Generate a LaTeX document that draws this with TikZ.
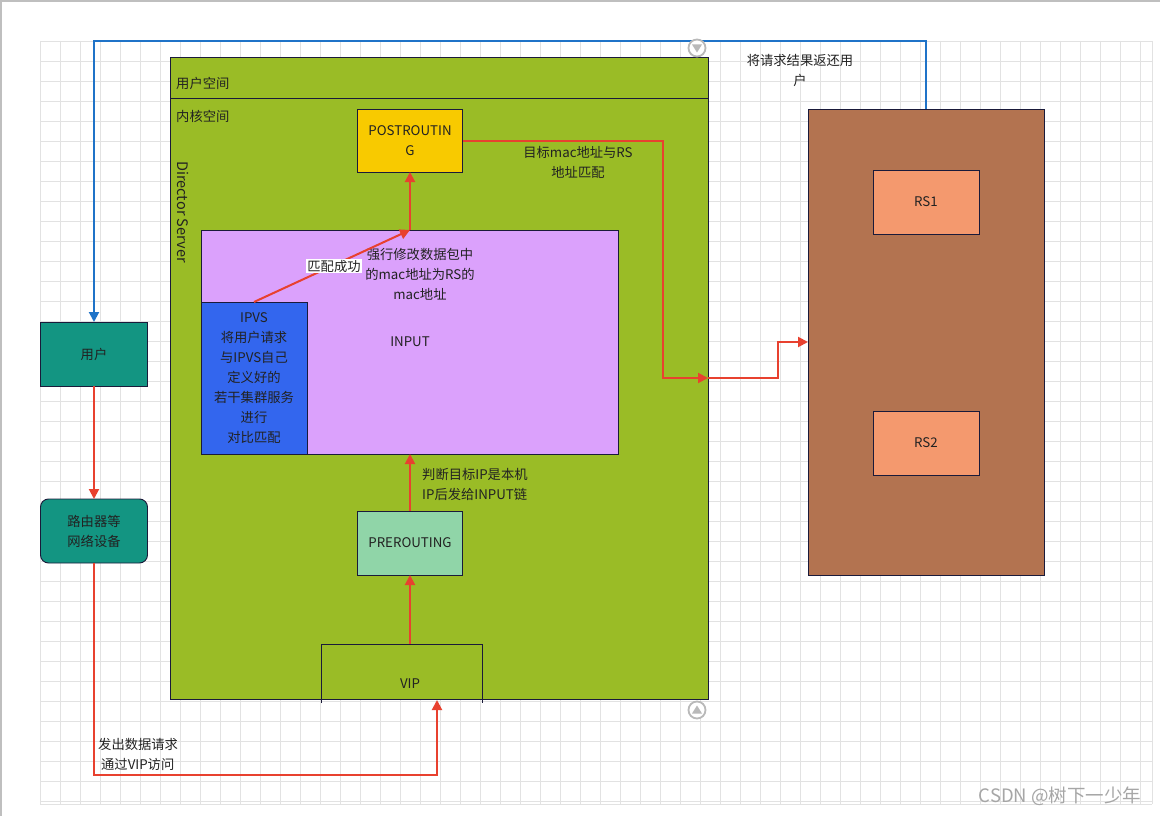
\documentclass[tikz,border=0pt]{standalone}
\usepackage{fontspec}
\setmainfont{Noto Sans CJK SC}
\usetikzlibrary{arrows.meta}
\definecolor{dsgreen}{HTML}{9ABC26}
\definecolor{navy}{HTML}{1A1A3A}
\definecolor{postyel}{HTML}{F8CA00}
\definecolor{inpurp}{HTML}{DBA1FC}
\definecolor{ipvsblue}{HTML}{3366EE}
\definecolor{pregreen}{HTML}{90D5A8}
\definecolor{teal}{HTML}{139582}
\definecolor{rsbrown}{HTML}{B37350}
\definecolor{rssalmon}{HTML}{F4996E}
\definecolor{redln}{HTML}{E8412F}
\definecolor{blueln}{HTML}{1F73C8}
\definecolor{txt}{HTML}{222222}
\definecolor{gridc}{HTML}{E2E2E2}
\tikzset{
  box/.style={draw=navy, line width=0.9pt, inner sep=0pt, outer sep=0pt, align=center, text=txt, font=\fontsize{13.3}{20}\selectfont},
  lbl/.style={inner sep=0pt, text=txt, font=\fontsize{13.3}{20}\selectfont, align=center},
  redarrow/.style={draw=redln, line width=2pt, -{Triangle[length=10pt,width=10pt]}},
  bluearrow/.style={draw=blueln, line width=2pt, -{Triangle[length=10pt,width=10pt]}},
  icon/.style={draw=gray!55, line width=1.8pt, fill=white}
}
\begin{document}
\begin{tikzpicture}[x=1pt,y=-1pt]
\useasboundingbox (0,0) rectangle (1160,816);
\fill[white] (0,0) rectangle (1160,816);
% window border
\draw[gray!50, line width=1.2pt] (0,1) -- (1160,1);
\draw[gray!50, line width=1.2pt] (1,0) -- (1,816);
% grid
\foreach \x in {40,60,...,1140} \draw[gridc, line width=0.8pt] (\x,41) -- (\x,804);
\draw[gridc, line width=0.8pt] (1152,41) -- (1152,804);
\foreach \y in {41,61,...,801} \draw[gridc, line width=0.8pt] (40,\y) -- (1152,\y);
\draw[gridc, line width=0.8pt] (40,804) -- (1152,804);

% Director server
\node[box, fill=dsgreen, minimum width=538pt, minimum height=642pt] (ds) at (439,378) {};
\draw[navy, line width=0.9pt] (ds.west |- 0,98) -- (ds.east |- 0,98);
\node[lbl, anchor=west] (us) at (176,83) {用户空间};
\node[lbl, anchor=west] (ks) at (176,116) {内核空间};
\node[lbl, rotate=-90, font=\fontsize{14.5}{16}\selectfont] (dsname) at (183,212) {Director Server};

% inner boxes
\node[box, fill=postyel, minimum width=105pt, minimum height=63pt] (post) at (410,140.5) {POSTROUTIN\\G};
\node[box, fill=inpurp, minimum width=417pt, minimum height=224pt] (input) at (410,342) {};
\node[lbl] (inputt) at (410,342) {INPUT};
\node[box, fill=ipvsblue, minimum width=106pt, minimum height=152pt] (ipvs) at (254,378) {IPVS\\将用户请求\\与IPVS自己\\定义好的\\若干集群服务\\进行\\对比匹配};
\node[lbl] (force) at (420,274) {强行修改数据包中\\的mac地址为RS的\\mac地址};
\node[box, fill=pregreen, minimum width=105pt, minimum height=64pt] (pre) at (410,543) {PREROUTING};
\node[lbl, anchor=west, align=left] (judge) at (422,484) {判断目标IP是本机\\IP后发给INPUT链};

% VIP
\node[inner sep=0pt, minimum width=161pt, minimum height=55pt] (vip) at (401.5,671.5) {};
\node[lbl] (viptxt) at (410,684) {VIP};
\draw[navy, line width=0.9pt] (321,703) -- (321,644) -- (482,644) -- (482,703);

% left side
\node[box, fill=teal, minimum width=107pt, minimum height=64pt] (user) at (94,354) {用户};
\node[box, fill=teal, rounded corners=8pt, minimum width=107pt, minimum height=64pt] (router) at (94,531) {路由器等\\网络设备};

% right side
\node[box, fill=rsbrown, minimum width=236pt, minimum height=466pt] (rsbox) at (926,342) {};
\node[box, fill=rssalmon, minimum width=106pt, minimum height=64pt] (rs1) at (926,202) {RS1};
\node[box, fill=rssalmon, minimum width=106pt, minimum height=64pt] (rs2) at (926,443) {RS2};

% coordinates
\coordinate (topl) at (94,41);
\coordinate (mid) at (708,378);
\coordinate (vipin) at (437,700);
\coordinate (botl) at (94,775);

% connectors
\draw[redarrow] (ipvs.north) -- (input.north);
\draw[redarrow] (input.north) -- (post.south);
\node[lbl, fill=white, inner sep=1pt] (match) at (334,266) {匹配成功};
\draw[redarrow] (pre.north) -- (input.south);
\draw[redarrow] (pre.south |- vip.north) -- (pre.south);
\draw[redarrow] (user.south) -- (router.north);
\draw[redarrow] (router.south) -- (botl) -- (vipin |- botl) -- (vipin);
\draw[bluearrow] (rsbox.north) -- (rsbox.north |- topl) -- (topl) -- (user.north);
\draw[redarrow] (post.east) -- (663,140.5) -- (663,378) -- (mid);
\draw[redarrow] (mid) -- (778,378) -- (778,342) -- (rsbox.west);

% labels
\node[lbl] (ret) at (800,70.5) {将请求结果返还用\\户};
\node[lbl] (tgt) at (578,162.5) {目标mac地址与RS\\地址匹配};
\node[lbl, anchor=west, align=left] (send) at (98,754) {发出数据请求\\\ 通过VIP访问};

% icons
\node[icon, circle, minimum size=17pt, inner sep=0pt] (ic1) at (697,48) {};
\fill[gray!55] (692,44.5) -- (702,44.5) -- (697,52.5) -- cycle;
\node[icon, circle, minimum size=17pt, inner sep=0pt] (ic2) at (697,710) {};
\fill[gray!55] (692,713.5) -- (702,713.5) -- (697,705.5) -- cycle;

% watermark
\node[inner sep=0pt, text=gray!70, font=\fontsize{18.5}{20}\selectfont] (wm) at (1060,796) {CSDN @树下一少年};
\end{tikzpicture}
\end{document}
